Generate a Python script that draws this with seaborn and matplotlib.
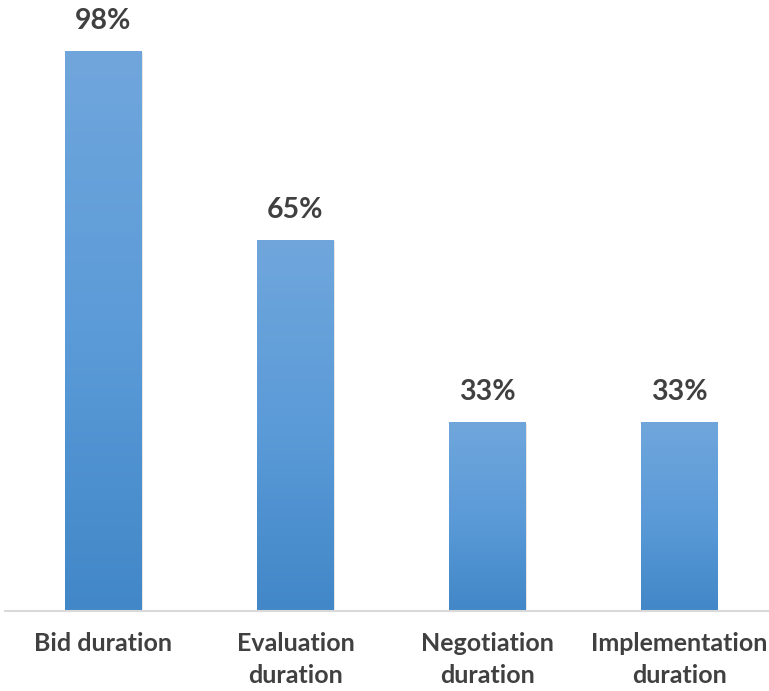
import matplotlib
matplotlib.use("Agg")
import matplotlib.pyplot as plt
import seaborn as sns
import numpy as np
import pandas as pd

# data
categories = ["Bid duration", "Evaluation\nduration", "Negotiation\nduration", "Implementation\nduration"]
values = [98, 65, 33, 33]
value_labels = ["98%", "65%", "33%", "33%"]


def draw_chart():
    sns.set_style("white")
    plt.rcParams['font.family'] = ['Lato', 'DejaVu Sans']

    df = pd.DataFrame({"category": categories, "value": values})

    fig = plt.figure(figsize=(7.69, 6.91), dpi=100)
    ax = fig.add_axes([0.007, 0.116, 0.993, 0.884])

    sns.barplot(data=df, x="category", y="value", color="#5b9bd5",
                width=0.396, saturation=1, ax=ax)

    # vertical gradient (light top -> darker bottom) clipped to each bar
    grad = np.linspace(0, 1, 256).reshape(-1, 1)
    cmap = matplotlib.colors.LinearSegmentedColormap.from_list(
        "bar", ["#4287c8", "#5b9bd8", "#70a6dc"])
    for patch in ax.patches:
        x0, y0 = patch.get_x(), patch.get_y()
        w, h = patch.get_width(), patch.get_height()
        # soft shadow
        sh = plt.Rectangle((x0 + 0.008, y0), w, h - 0.2, color="black",
                           alpha=0.12, zorder=1.5, lw=0)
        ax.add_patch(sh)
        im = ax.imshow(grad, extent=(x0, x0 + w, y0, y0 + h), origin="lower",
                       cmap=cmap, aspect="auto", zorder=2)
        im.set_clip_path(patch)
        patch.set_zorder(2)

    for i, (v, lab) in enumerate(zip(values, value_labels)):
        ax.text(i, v + 3.0, lab, ha="center", va="bottom", fontsize=20.5,
                fontweight="bold", color="#404040")

    ax.set_xlim(-0.51, 3.466)
    ax.set_ylim(0, 107)
    ax.set_yticks([])
    ax.set_xlabel("")
    ax.set_ylabel("")
    ax.tick_params(axis="x", length=0, pad=15)
    for t in ax.get_xticklabels():
        t.set_fontsize(18)
        t.set_fontweight("bold")
        t.set_color("#404040")
        t.set_linespacing(1.5)

    sns.despine(ax=ax, left=True, top=True, right=True)
    ax.spines["bottom"].set_color("#d9d9d9")
    ax.spines["bottom"].set_linewidth(1.5)

    fig.savefig("out.png", dpi=100)


if __name__ == '__main__':
    draw_chart()
